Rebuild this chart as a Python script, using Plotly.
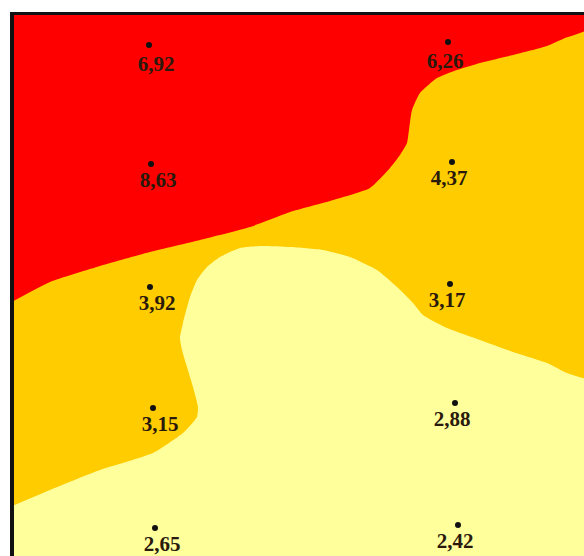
import plotly.graph_objects as go

# Sample points (coordinates in metres, y = depth downward) and measured values
sample_x = [1.49, 4.48, 1.51, 4.52, 1.50, 4.50, 1.53, 4.55, 1.55, 4.58]
sample_y = [0.45, 0.42, 1.64, 1.62, 2.87, 2.84, 4.08, 4.03, 5.28, 5.25]
sample_values = [6.92, 6.26, 8.63, 4.37, 3.92, 3.17, 3.15, 2.88, 2.65, 2.42]
sample_labels = [f"{v:.2f}".replace(".", ",") for v in sample_values]

# Iso-line between the high (red) and middle (orange) classes
red_orange_x = [0.10, 0.50, 1.00, 1.50, 2.00, 2.50, 2.90, 3.30, 3.70, 3.90, 4.00,
                4.07, 4.09, 4.12, 4.20, 4.37, 4.57, 4.80, 5.13, 5.47, 5.65, 5.90]
red_orange_y = [3.03, 2.82, 2.66, 2.52, 2.40, 2.27, 2.12, 2.01, 1.88, 1.68, 1.55,
                1.43, 1.30, 1.10, 0.93, 0.78, 0.70, 0.63, 0.55, 0.46, 0.38, 0.28]

# Iso-line between the middle (orange) and low (pale yellow) classes
orange_yellow_x = [0.10, 0.50, 1.00, 1.53, 1.83, 1.97, 1.98, 1.93, 1.87, 1.82, 1.80,
                   1.83, 1.90, 1.97, 2.07, 2.20, 2.40, 2.60, 2.90, 3.23, 3.50, 3.77,
                   3.97, 4.13, 4.23, 4.47, 4.80, 5.13, 5.47, 5.67, 5.90]
orange_yellow_y = [5.07, 4.90, 4.70, 4.53, 4.33, 4.17, 4.07, 3.87, 3.67, 3.50, 3.38,
                   3.23, 2.97, 2.80, 2.67, 2.57, 2.48, 2.46, 2.47, 2.50, 2.57, 2.70,
                   2.87, 3.03, 3.15, 3.28, 3.40, 3.52, 3.63, 3.73, 3.78]

x_range = [0.14, 5.84]
y_range = [5.56, 0.15]

RED = "#FF0000"
ORANGE = "#FFCC00"
PALE = "#FFFF9C"

fig = go.Figure()

# Orange zone: everything above the orange/yellow iso-line
fig.add_trace(go.Scatter(
    x=orange_yellow_x + [orange_yellow_x[-1], orange_yellow_x[0]],
    y=orange_yellow_y + [0.0, 0.0],
    fill="toself", fillcolor=ORANGE, mode="lines",
    line=dict(color=ORANGE, width=0, shape="spline", smoothing=0.5),
    hoverinfo="skip", showlegend=False))

# Red zone: everything above the red/orange iso-line
fig.add_trace(go.Scatter(
    x=red_orange_x + [red_orange_x[-1], red_orange_x[0]],
    y=red_orange_y + [0.0, 0.0],
    fill="toself", fillcolor=RED, mode="lines",
    line=dict(color=RED, width=0, shape="spline", smoothing=0.5),
    hoverinfo="skip", showlegend=False))

# Sample points
fig.add_trace(go.Scatter(
    x=sample_x, y=sample_y, mode="markers",
    marker=dict(color="#111111", size=6),
    hoverinfo="skip", showlegend=False))

# Value labels, just below each point
label_x = [x + (0.07 if x < 3 else -0.03) for x in sample_x]
label_y = [y + (0.21 if y < 1 else 0.18) for y in sample_y]
fig.add_trace(go.Scatter(
    x=label_x, y=label_y, mode="text", text=sample_labels,
    textposition="middle center", cliponaxis=False,
    textfont=dict(family="Liberation Serif", size=21, color="#2a1a0c", weight="bold"),
    hoverinfo="skip", showlegend=False))

fig.update_layout(
    width=584, height=556,
    margin=dict(l=14, r=0, t=15, b=0),
    paper_bgcolor="white", plot_bgcolor=PALE,
    hovermode=False,
    xaxis=dict(range=x_range, side="top", showline=True, linewidth=3, linecolor="#111111",
               showgrid=False, zeroline=False, showticklabels=False, ticks=""),
    yaxis=dict(range=y_range, showline=True, linewidth=4, linecolor="#111111",
               showgrid=False, zeroline=False, showticklabels=False, ticks=""),
)

fig.write_html("out.html", config={"displayModeBar": False},
               post_script="document.body.style.margin='0';document.body.style.overflow='hidden';")
